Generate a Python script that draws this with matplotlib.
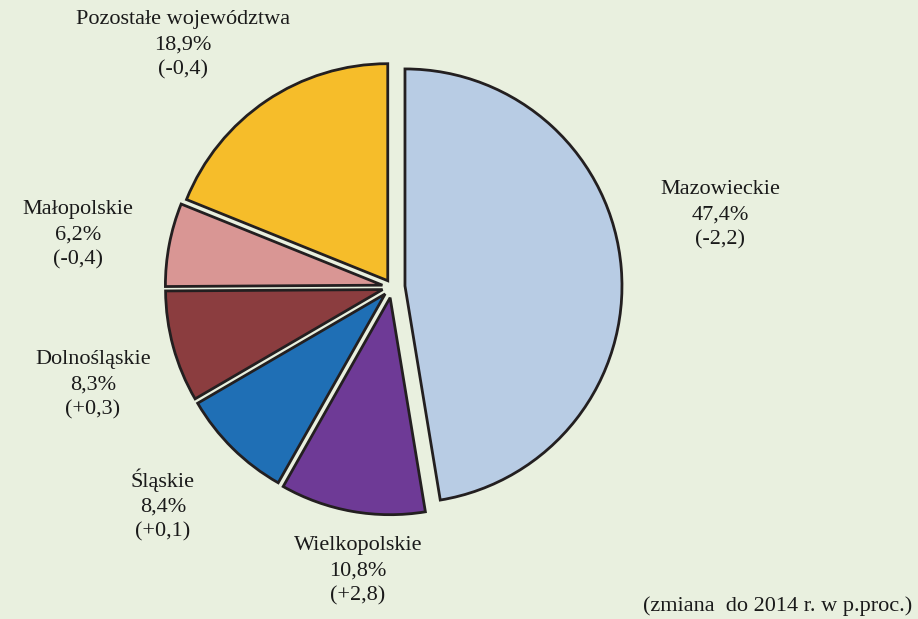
import matplotlib
matplotlib.use('Agg')
import matplotlib.pyplot as plt

# -- DATA --
regions = ['Mazowieckie', 'Wielkopolskie', 'Śląskie', 'Dolnośląskie',
           'Małopolskie', 'Pozostałe województwa']
shares = [47.4, 10.8, 8.4, 8.3, 6.2, 18.9]
changes = ['-2,2', '+2,8', '+0,1', '+0,3', '-0,4', '-0,4']
colors = ['#B8CCE4', '#6E3A96', '#1F6FB5', '#8B3D3F', '#D99694', '#F6BD2A']
explode = [0.06, 0.05, 0.045, 0.045, 0.045, 0.035]

# label centres in pixel coords (x, y from top)
label_pos = [(720, 215), (358, 571), (163, 505), (93, 385), (78, 235), (183, 45)]

W, H = 918, 619
BG = '#E9F0DF'
R = 217
SERIF = ['Liberation Serif', 'DejaVu Serif']

fig = plt.figure(figsize=(W / 100, H / 100), dpi=100, facecolor=BG)
ax = fig.add_axes([0, 0, 1, 1])
ax.set_facecolor(BG)

# explode in pie() is in data units, so scale by the radius
ax.pie(shares, colors=colors, explode=[e * R for e in explode], startangle=90,
       counterclock=False, center=(392, H - 287), radius=R,
       wedgeprops=dict(edgecolor='#231F20', linewidth=2.0))

# pie() resets the limits, so fix them afterwards
ax.set_xlim(0, W)
ax.set_ylim(0, H)
ax.set_aspect('equal')
ax.axis('off')

for name, share, ch, (x, y) in zip(regions, shares, changes, label_pos):
    txt = f'{name}\n{share:.1f}%\n({ch})'.replace('.', ',')
    ax.text(x, H - y, txt, ha='center', va='center', fontsize=16,
            linespacing=1.42, color='#1a1a1a', family=SERIF)

ax.text(912, H - 606, '(zmiana  do 2014 r. w p.proc.)', ha='right',
        va='center', fontsize=16, color='#1a1a1a', family=SERIF)

plt.savefig('out.png', dpi=100, facecolor=BG)
plt.close(fig)
